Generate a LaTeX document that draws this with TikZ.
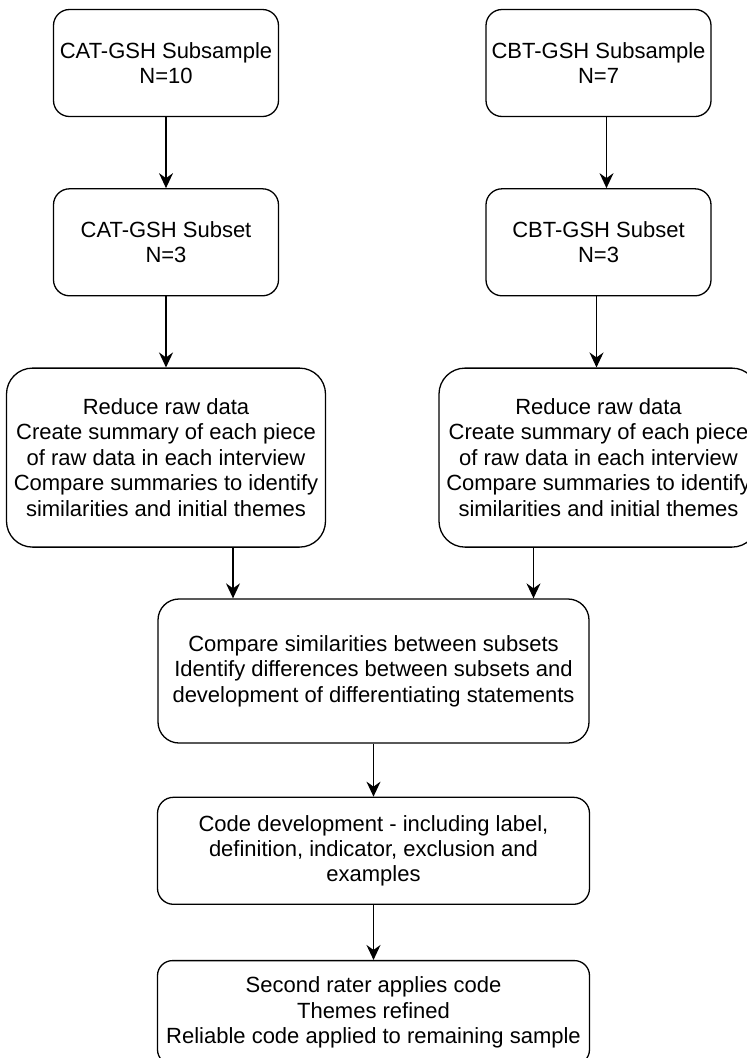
\documentclass[tikz,border=0pt]{standalone}
\usepackage{fontspec}
\setmainfont{Liberation Sans}
\usepackage{xcolor}
\usepackage{tikz}
\usetikzlibrary{shapes.geometric, arrows.meta, positioning}
\tikzstyle{samplebox} = [rectangle, rounded corners=16pt, minimum width=225pt, minimum height=107pt, inner sep=2pt, align=center, draw=black, fill=white, line width=1.3pt]
\tikzstyle{reducebox} = [rectangle, rounded corners=26pt, minimum width=319pt, minimum height=179pt, inner sep=2pt, align=center, draw=black, fill=white, line width=1.3pt]
\tikzstyle{comparebox} = [rectangle, rounded corners=21pt, minimum width=431pt, minimum height=144pt, inner sep=2pt, align=center, draw=black, fill=white, line width=1.3pt]
\tikzstyle{codebox} = [rectangle, rounded corners=16pt, minimum width=432pt, minimum height=107pt, inner sep=2pt, align=center, draw=black, fill=white, line width=1.3pt]
\tikzstyle{raterbox} = [rectangle, rounded corners=15pt, minimum width=432pt, minimum height=104pt, inner sep=2pt, align=center, draw=black, fill=white, line width=1.3pt]
\tikzstyle{arrow} = [line width=1.4pt,-{Stealth[length=15pt,width=14pt,inset=5pt]}]

\begin{document}
\begin{tikzpicture}[x=1pt, y=1pt, every node/.style={font=\fontsize{22}{25.5}\selectfont}]
                        \useasboundingbox (0,0) rectangle (747,-1058);
                        \node (catsub) [samplebox] at (166,-63) {CAT-GSH Subsample\\N=10};
                        \node (cbtsub) [samplebox] at (598.5,-63) {CBT-GSH Subsample\\N=7};
                        \node (catset) [samplebox, below=71pt of catsub] {CAT-GSH Subset\\N=3};
                        \draw [arrow] (catsub) -- (catset);
                        \node (cbtset) [samplebox, below=71pt of cbtsub] {CBT-GSH Subset\\N=3};
                        \draw [arrow] ([xshift=8pt]cbtsub.south) -- ([xshift=8pt]cbtset.north);
                        \node (catred) [reducebox, below=71pt of catset] {Reduce raw data\\Create summary of each piece\\of raw data in each interview\\Compare summaries to identify\\similarities and initial themes};
                        \draw [arrow] (catset) -- (catred);
                        \node (cbtred) [reducebox, below=71pt of cbtset] {Reduce raw data\\Create summary of each piece\\of raw data in each interview\\Compare summaries to identify\\similarities and initial themes};
                        \draw [arrow] ([xshift=-2pt]cbtset.south) -- ([xshift=-2pt]cbtred.north);
                        \node (cmp) [comparebox] at (373.5,-671) {Compare similarities between subsets\\Identify differences between subsets and\\development of differentiating statements};
                        \draw [arrow] ([xshift=67pt]catred.south) -- ([xshift=67pt]catred.south |- cmp.north);
                        \draw [arrow] ([xshift=-65pt]cbtred.south) -- ([xshift=-65pt]cbtred.south |- cmp.north);
                        \node (dev) [codebox, below=53pt of cmp] {Code development - including label,\\definition, indicator, exclusion and\\examples};
                        \draw [arrow] (cmp) -- (dev);
                        \node (rater) [raterbox, below=55pt of dev] {Second rater applies code\\Themes refined\\Reliable code applied to remaining sample};
                        \draw [arrow] (dev) -- (rater);
                    \end{tikzpicture}
\end{document}
